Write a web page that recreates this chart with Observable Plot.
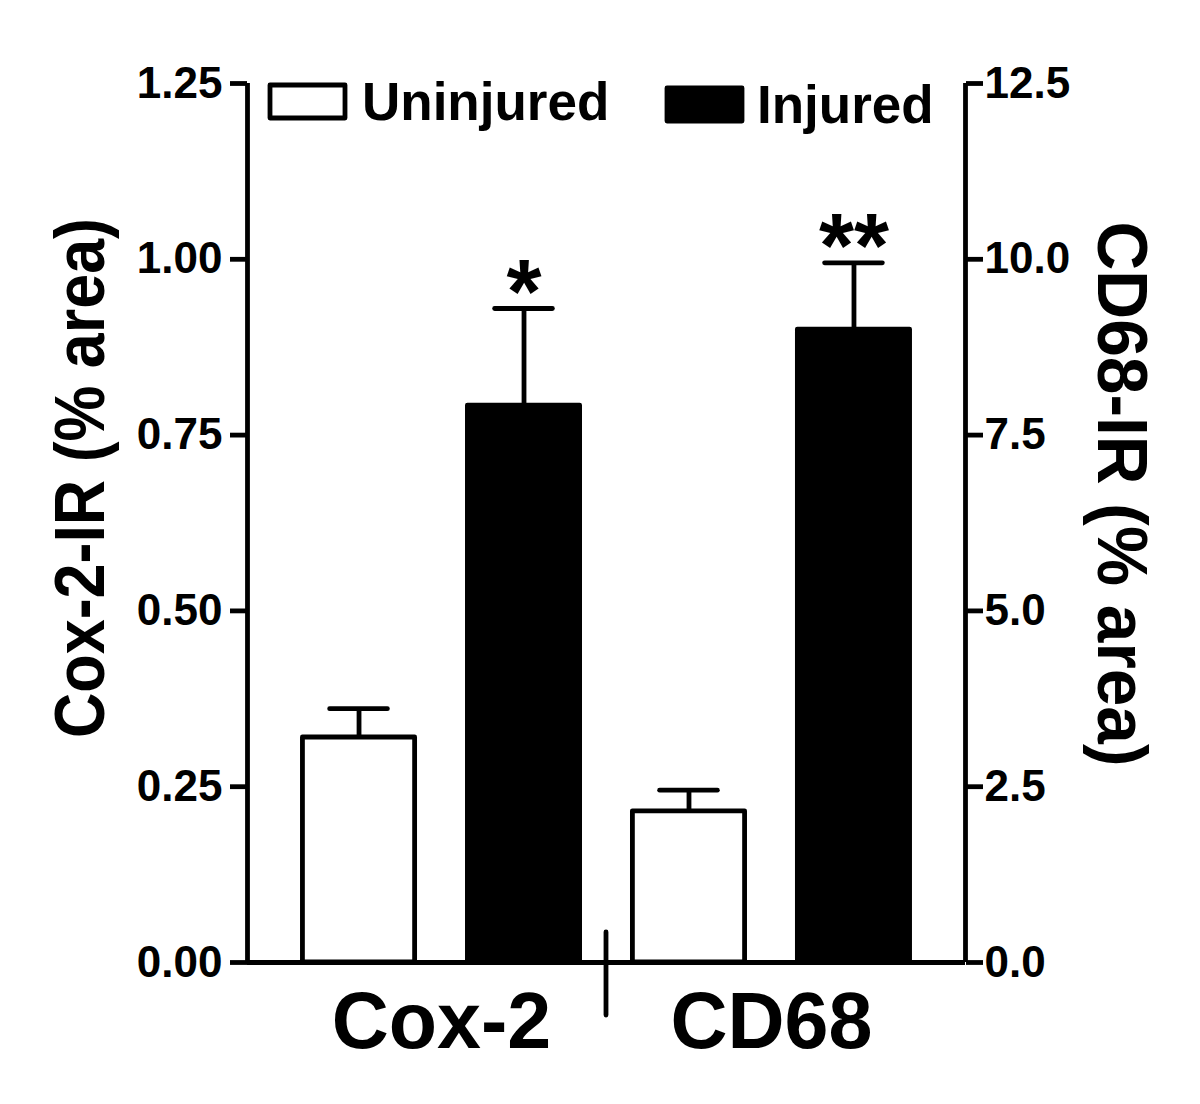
<!DOCTYPE html>
<html>
<head>
<meta charset="utf-8">
<script src="https://cdn.jsdelivr.net/npm/d3@7"></script>
<script src="https://cdn.jsdelivr.net/npm/@observablehq/plot@0.6"></script>
<style>
  html, body { margin: 0; padding: 0; background: #fff; }
  #chart { width: 1200px; height: 1104px; }
</style>
</head>
<body>
<div id="chart"></div>
<script>
// ---- data ----
const groups = ["Cox-2", "CD68"];
const conditions = ["Uninjured", "Injured"];
const cox2Mean = [0.320, 0.792];      // Cox-2-IR (% area), left axis
const cox2Sem = [0.041, 0.138];
const cd68Mean = [2.15, 9.00];        // CD68-IR (% area), right axis
const cd68Sem = [0.30, 0.95];
const cox2Stars = ["", "*"];
const cd68Stars = ["", "**"];
const leftTicks = [0, 0.25, 0.50, 0.75, 1.00, 1.25];
const rightTicks = [0, 2.5, 5.0, 7.5, 10.0, 12.5];
const rightFactor = 10;               // right axis units = left axis units x 10
const leftTitle = "Cox-2-IR (% area)";
const rightTitle = "CD68-IR (% area)";

// ---- table built from the arrays ----
const means = [cox2Mean, cd68Mean.map(v => v / rightFactor)];
const sems = [cox2Sem, cd68Sem.map(v => v / rightFactor)];
const stars = [cox2Stars, cd68Stars];
const rows = [];
groups.forEach((g, gi) => conditions.forEach((c, ci) => {
  rows.push({
    group: g, cond: c, slot: gi * conditions.length + ci,
    mean: means[gi][ci], top: means[gi][ci] + sems[gi][ci], star: stars[gi][ci]
  });
}));
const nSlots = groups.length * conditions.length;

// ---- layout / style constants ----
const W = 1200, H = 1104;
const outerPad = 0.676, barHalf = 0.34, capHalf = 0.175;
const SW = 4.8;
const font = "'Liberation Sans', Arial, sans-serif";

const plot = Plot.plot({
  width: W, height: H,
  marginLeft: 247, marginRight: 235, marginTop: 83, marginBottom: 142,
  style: { fontFamily: font, color: "black", background: "white", overflow: "visible" },
  x: { domain: [-outerPad, nSlots - 1 + outerPad], axis: null },
  y: { domain: [0, leftTicks[leftTicks.length - 1]], axis: null },
  marks: [
    // bars
    Plot.rectY(rows.filter(d => d.cond === "Uninjured"), {
      x1: d => d.slot - barHalf, x2: d => d.slot + barHalf, y1: 0, y2: "mean",
      fill: "white", stroke: "black", strokeWidth: SW, strokeLinejoin: "round"
    }),
    Plot.rectY(rows.filter(d => d.cond === "Injured"), {
      x1: d => d.slot - barHalf, x2: d => d.slot + barHalf, y1: 0, y2: "mean",
      fill: "black", stroke: "black", strokeWidth: SW, strokeLinejoin: "round"
    }),
    // error bars (upper only)
    Plot.ruleX(rows, { x: "slot", y1: "mean", y2: "top", stroke: "black", strokeWidth: SW }),
    Plot.ruleY(rows, {
      y: "top", x1: d => d.slot - capHalf, x2: d => d.slot + capHalf,
      stroke: "black", strokeWidth: SW, strokeLinecap: "round"
    }),
    // significance stars
    Plot.text(rows.filter(d => d.star), {
      x: "slot", y: "top", text: "star", lineAnchor: "bottom", dy: 14,
      fontSize: 90, fontWeight: "bold", fill: "black"
    }),
    // frame lines: left axis, right axis, baseline
    Plot.ruleX([-outerPad, nSlots - 1 + outerPad], { y1: 0, y2: leftTicks[leftTicks.length - 1], stroke: "black", strokeWidth: SW }),
    Plot.ruleY([0], { stroke: "black", strokeWidth: SW }),
    // axes
    Plot.axisY(leftTicks, {
      anchor: "left", tickSize: 17, tickPadding: 8, strokeWidth: SW,
      tickFormat: d3.format(".2f"), fontSize: 44, fontWeight: "bold", label: null
    }),
    Plot.axisY(rightTicks.map(v => v / rightFactor), {
      anchor: "right", tickSize: 17, tickPadding: 2, strokeWidth: SW,
      tickFormat: d => (d * rightFactor).toFixed(1), fontSize: 44, fontWeight: "bold", label: null
    }),
    // group labels
    Plot.text(groups, {
      x: (d, i) => i * conditions.length + (conditions.length - 1) / 2,
      frameAnchor: "bottom", lineAnchor: "bottom", dy: 85,
      text: d => d, fontSize: 79, fontWeight: "bold", fill: "black"
    })
  ]
});

document.getElementById("chart").appendChild(plot);

// ---- decorations placed with the plot's own scales ----
const svg = d3.select(plot);
const xs = plot.scale("x"), ys = plot.scale("y");
const y0 = ys.apply(0);
// group separator tick
const sepX = xs.apply((nSlots - 1) / 2);
svg.append("line")
  .attr("x1", sepX).attr("x2", sepX)
  .attr("y1", y0 - 30).attr("y2", y0 + 53)
  .attr("stroke", "black").attr("stroke-width", SW).attr("stroke-linecap", "round");

// axis titles
svg.append("text")
  .attr("transform", `translate(104, 478) rotate(-90)`)
  .attr("text-anchor", "middle")
  .attr("font-family", font).attr("font-weight", "bold").attr("font-size", 70)
  .attr("textLength", 520).attr("lengthAdjust", "spacingAndGlyphs")
  .attr("fill", "black")
  .text(leftTitle);
svg.append("text")
  .attr("transform", `translate(1098, 494) rotate(90)`)
  .attr("text-anchor", "middle")
  .attr("font-family", font).attr("font-weight", "bold").attr("font-size", 70)
  .attr("textLength", 545).attr("lengthAdjust", "spacingAndGlyphs")
  .attr("fill", "black")
  .text(rightTitle);

// legend
const legend = svg.append("g")
  .attr("font-family", font).attr("font-weight", "bold").attr("font-size", 53)
  .attr("text-anchor", "start");
const legendItems = [
  { label: conditions[0], fill: "white", bx: 270, by: 85, tx: 362, ty: 120 },
  { label: conditions[1], fill: "black", bx: 667, by: 88, tx: 757, ty: 123 }
];
legendItems.forEach(it => {
  legend.append("rect")
    .attr("x", it.bx).attr("y", it.by).attr("width", 75).attr("height", 33)
    .attr("fill", it.fill).attr("stroke", "black").attr("stroke-width", SW).attr("stroke-linejoin", "round");
  legend.append("text").attr("x", it.tx).attr("y", it.ty)
    .attr("text-anchor", "start").attr("fill", "black").text(it.label);
});
</script>
</body>
</html>
